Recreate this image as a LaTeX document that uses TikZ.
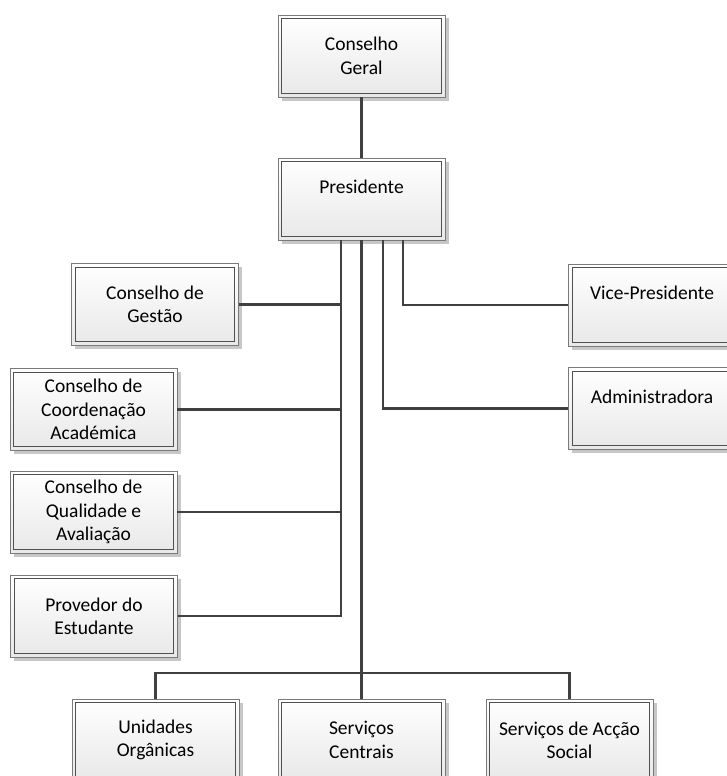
\documentclass[tikz,border=0pt]{standalone}
\usepackage{fontspec}
\setmainfont{Carlito}
\usetikzlibrary{calc,shadows}
\definecolor{linec}{HTML}{404040}
\definecolor{outerc}{HTML}{7A7A7A}
\definecolor{innerc}{HTML}{505050}
\tikzset{
  orgbox/.style={draw=outerc, line width=0.8pt, minimum width=167pt, minimum height=82pt,
    inner sep=0pt, align=center, top color=white, bottom color=black!9,
    drop shadow={shadow xshift=3.5pt, shadow yshift=-3.5pt, fill=black!22, opacity=1},
    font=\fontsize{19.5}{23.4}\selectfont},
  innerline/.style={draw=innerc, line width=0.9pt},
  conn/.style={draw=linec, line width=2.2pt},
}
\begin{document}
\begin{tikzpicture}[x=1pt,y=-1pt]
\useasboundingbox (0,0) rectangle (726,776);
\node[orgbox] (cg) at (361.5,56) {Conselho\\Geral};
\node[orgbox] (pres) at (361.5,199) {Presidente\\[-6pt]\strut};
\node[orgbox] (gest) at (155,304.5) {Conselho de\\Gestão};
\node[orgbox] (coord) at (93.5,409.5) {Conselho de\\Coordenação\\Académica};
\node[orgbox] (qual) at (93.5,512) {Conselho de\\Qualidade e\\Avaliação};
\node[orgbox] (prov) at (94,616) {Provedor do\\Estudante};
\node[orgbox] (vice) at (652,305) {Vice-Presidente\\[-6pt]\strut};
\node[orgbox] (adm) at (652,408.5) {Administradora\\[-6pt]\strut};
\node[orgbox] (uo) at (155.5,740) {Unidades\\Orgânicas};
\node[orgbox] (sc) at (361.5,740) {Serviços\\Centrais};
\node[orgbox] (sas) at (569.5,740) {Serviços de Acção\\Social};
\foreach \n in {cg,pres,gest,coord,qual,prov,vice,adm,uo,sc,sas}
  \draw[innerline] ($(\n.south west)+(4,-4)$) rectangle ($(\n.north east)+(-4,4)$);
% connectors
\coordinate (ta) at ($(pres.south)+(-20.5,0)$);
\coordinate (tc) at ($(pres.south)+(21.5,0)$);
\coordinate (td) at ($(pres.south)+(41.5,0)$);
\coordinate (bus) at ($(sc.north)+(0,-26)$);
\draw[conn] (cg.south) -- (pres.north);
\draw[conn] (ta) |- (prov.east);
\draw[conn] (gest.east) -- (gest.east -| ta);
\draw[conn] (coord.east) -- (coord.east -| ta);
\draw[conn] (qual.east) -- (qual.east -| ta);
\draw[conn] (pres.south) -- (sc.north);
\draw[conn] (uo.north) |- (bus) -| (sas.north);
\draw[conn] (tc) |- (adm.west);
\draw[conn] (td) |- (vice.west);
\end{tikzpicture}
\end{document}
